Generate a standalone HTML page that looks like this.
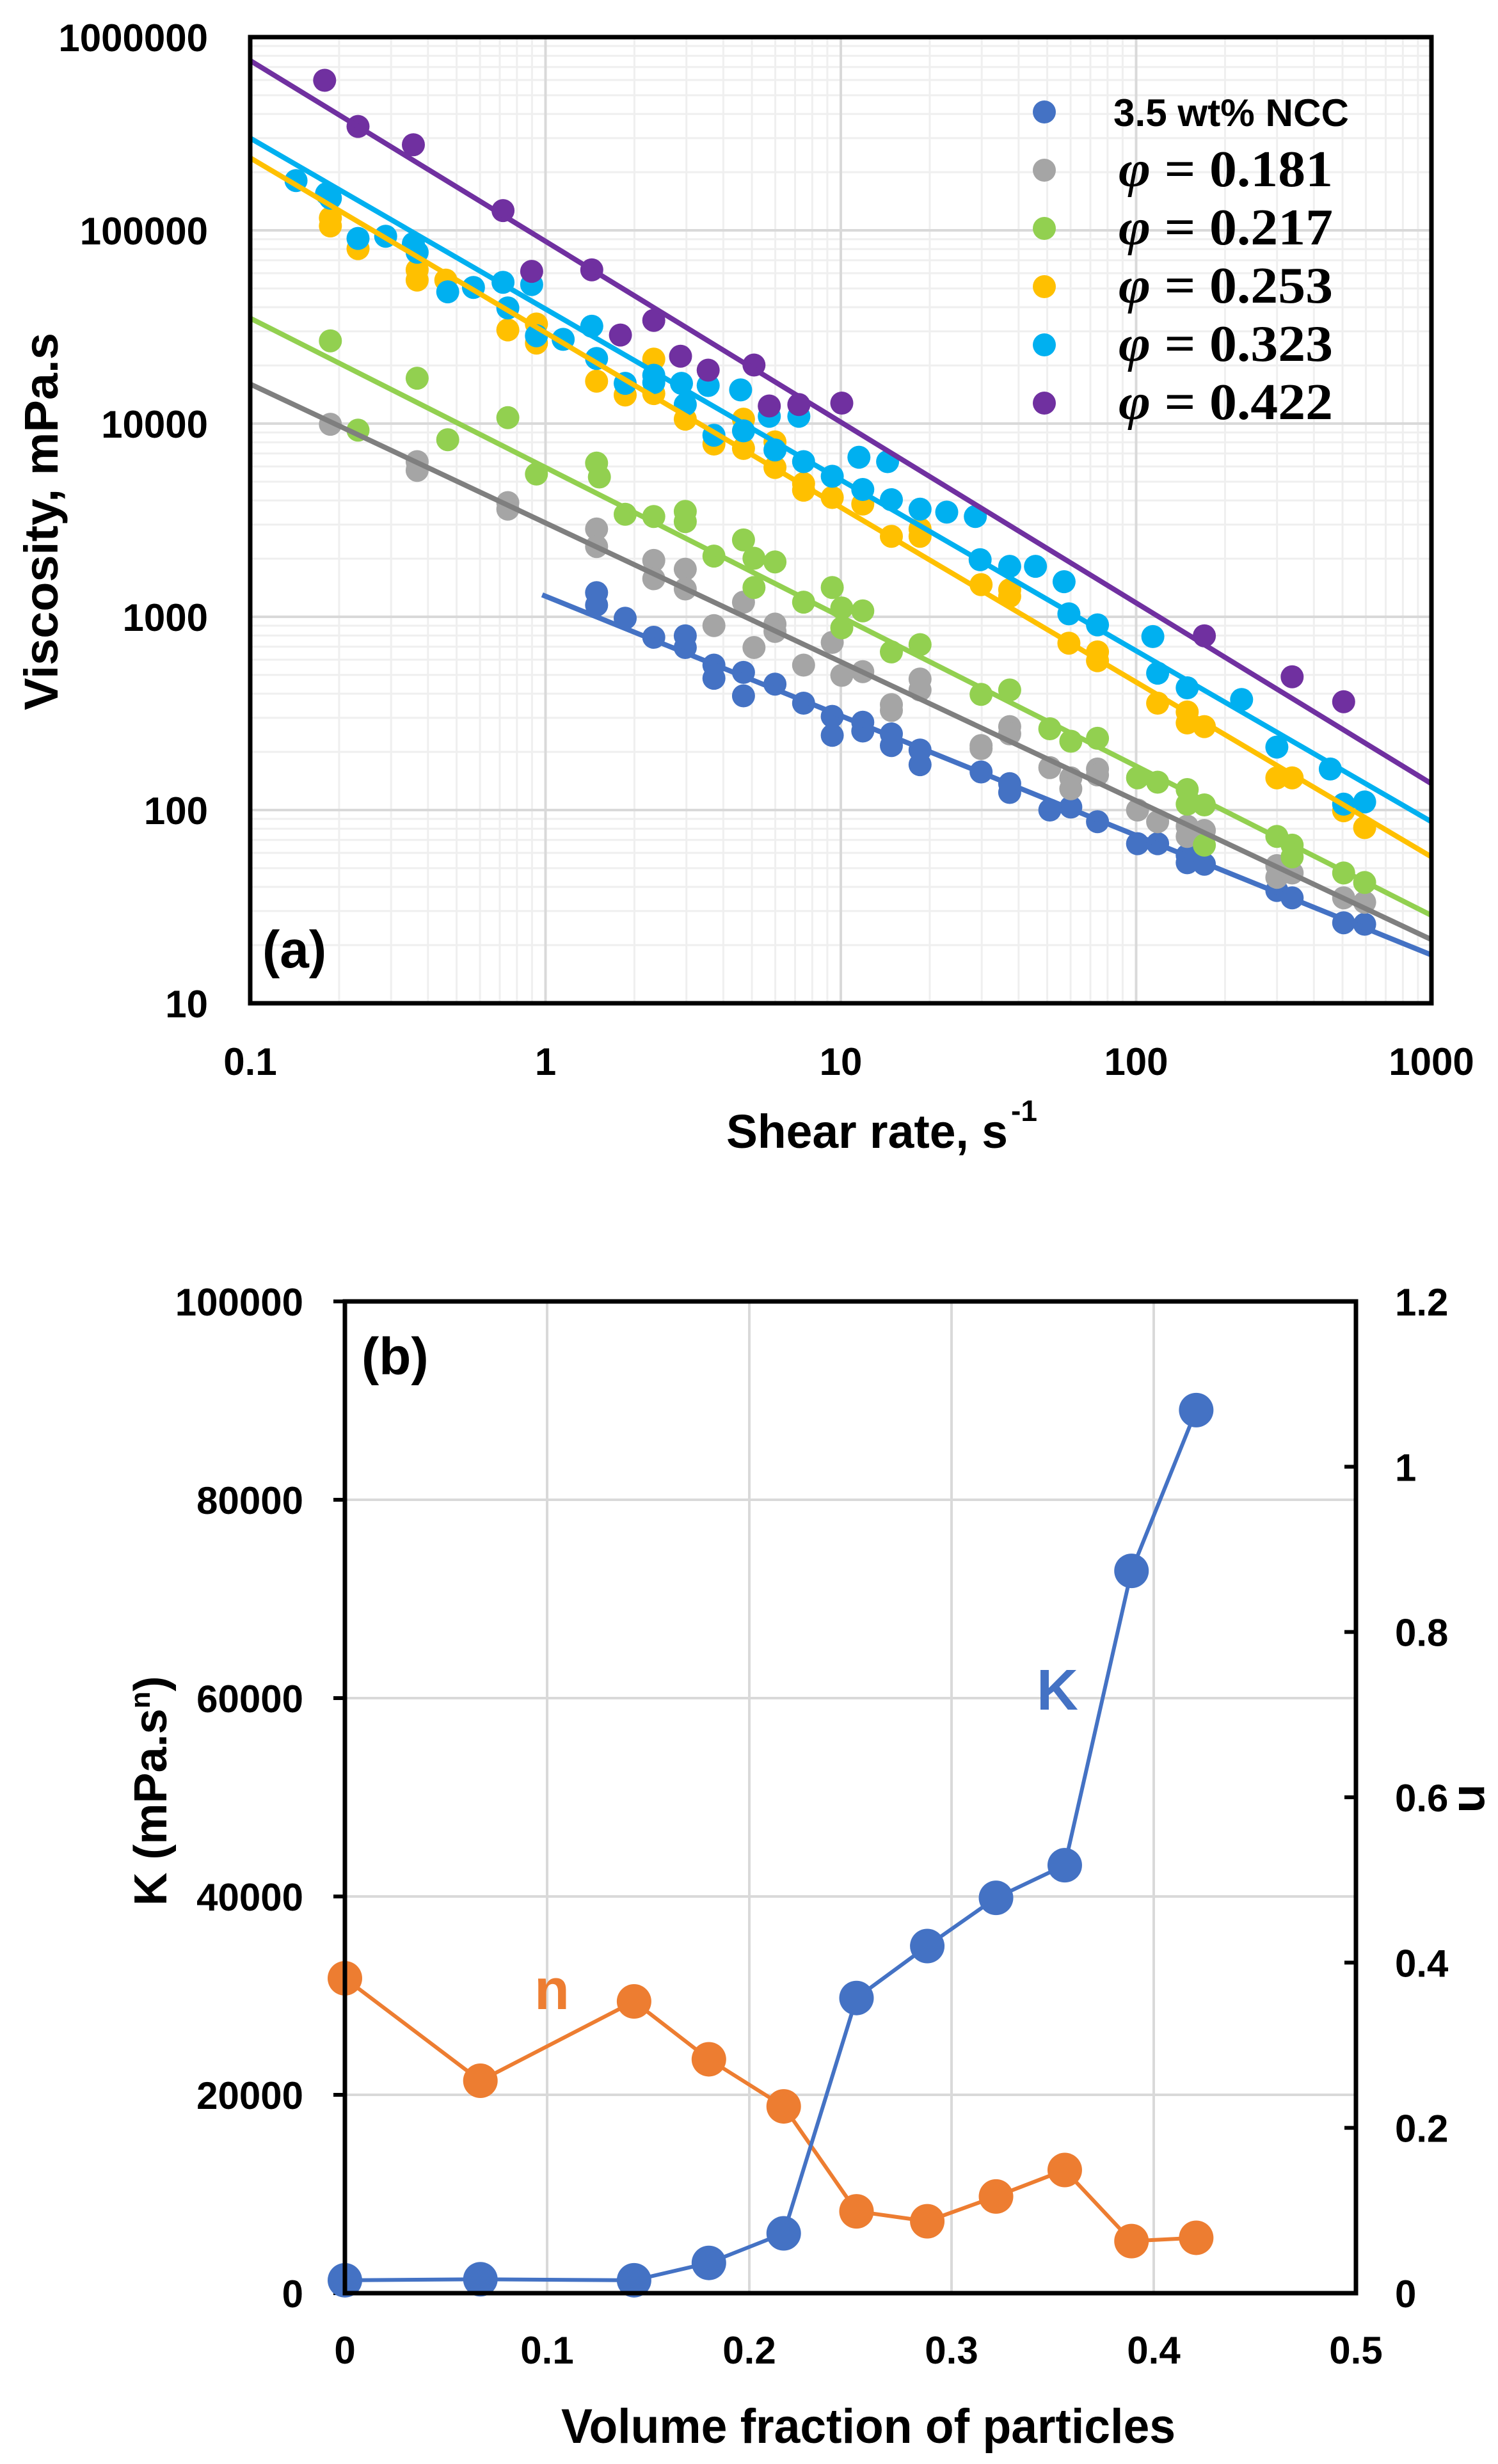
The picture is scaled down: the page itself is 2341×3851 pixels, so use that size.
<!DOCTYPE html>
<html><head><meta charset="utf-8"><style>
html,body{margin:0;padding:0;background:#fff;}
svg{display:block;}
text{font-family:"Liberation Sans",sans-serif;font-weight:bold;fill:#000;}
</style></head><body>
<svg id="s" xmlns="http://www.w3.org/2000/svg" width="2341" height="3851" viewBox="0 0 2341 3851"></svg>
<script>
const s=document.getElementById('s');let h='';
const L=391,R=2237,T=58,B=1568;
const xl=v=>L+(Math.log10(v)+1)*(R-L)/4;
const yl=v=>B-(Math.log10(v)-1)*(B-T)/5;
for(let d=-1;d<3;d++)for(let k=2;k<10;k++){const x=xl(k*Math.pow(10,d));h+=`<line x1="${x}" y1="${T}" x2="${x}" y2="${B}" stroke="#EFEFEF" stroke-width="3"/>`;}
for(let d=1;d<6;d++)for(let k=2;k<10;k++){const y=yl(k*Math.pow(10,d));h+=`<line x1="${L}" y1="${y}" x2="${R}" y2="${y}" stroke="#EFEFEF" stroke-width="3"/>`;}
for(let d=-1;d<=3;d++){const x=xl(Math.pow(10,d));h+=`<line x1="${x}" y1="${T}" x2="${x}" y2="${B}" stroke="#D9D9D9" stroke-width="4"/>`;}
for(let d=1;d<=6;d++){const y=yl(Math.pow(10,d));h+=`<line x1="${L}" y1="${y}" x2="${R}" y2="${y}" stroke="#D9D9D9" stroke-width="4"/>`;}
const X=xd=>L+(xd-262)*1846/1238, Y=yd=>T+(yd-48)*1510/1320;
const ser=[
['#7030A0','#7030A0',[262,80,1500,1068],[[340,107],[375,170],[433,195],[527,285],[557,368],[620,366],[650,455],[685,435],[713,484],[742,503],[790,496],[806,552],[837,550],[882,548],[1262,866],[1354,922],[1408,956]]],
['#00B0F0','#00B0F0',[262,186,1500,1120],[[310,244],[342,262],[346,268],[375,323],[404,320],[433,330],[437,342],[469,396],[496,390],[527,383],[532,418],[557,386],[562,456],[590,461],[620,443],[625,487],[655,521],[685,510],[685,520],[714,521],[718,550],[742,524],[748,592],[776,530],[779,586],[806,566],[812,612],[837,566],[842,628],[872,648],[900,622],[904,666],[930,628],[934,680],[964,693],[992,697],[1022,703],[1027,762],[1058,771],[1085,771],[1115,792],[1120,836],[1150,851],[1208,867],[1213,917],[1244,937],[1301,953],[1338,1018],[1394,1048],[1408,1096],[1430,1093]]],
['#FFC000','#FFC000',[262,213,1500,1168],[[346,295],[346,306],[375,337],[437,366],[437,380],[467,380],[532,448],[562,440],[562,466],[625,518],[655,537],[685,488],[685,535],[718,570],[748,604],[779,570],[779,610],[812,601],[812,636],[842,658],[842,667],[872,677],[904,686],[934,730],[964,720],[964,730],[1028,796],[1058,803],[1058,812],[1120,876],[1150,888],[1150,900],[1213,958],[1244,970],[1244,985],[1262,990],[1338,1060],[1354,1060],[1408,1105],[1430,1128]]],
['#92D050','#92D050',[262,432,1500,1248],[[346,463],[375,585],[437,514],[469,598],[532,568],[562,645],[625,630],[628,649],[655,700],[685,703],[718,696],[718,710],[748,757],[779,735],[790,800],[790,760],[812,765],[842,820],[872,800],[882,828],[882,855],[904,832],[934,888],[964,878],[1028,946],[1058,940],[1100,993],[1122,1010],[1150,1006],[1192,1060],[1213,1066],[1244,1076],[1244,1096],[1262,1097],[1262,1152],[1338,1140],[1354,1152],[1354,1168],[1408,1190],[1430,1203]]],
['#A5A5A5','#7F7F7F',[262,522,1500,1281],[[346,577],[437,628],[437,640],[532,684],[532,693],[625,720],[625,744],[685,763],[685,788],[718,775],[718,802],[748,852],[779,820],[790,882],[812,850],[812,860],[842,906],[872,875],[882,920],[904,915],[934,960],[934,968],[964,925],[964,940],[1028,1016],[1028,1020],[1058,990],[1058,1000],[1100,1046],[1122,1060],[1122,1075],[1150,1048],[1150,1056],[1192,1104],[1213,1120],[1244,1126],[1244,1140],[1262,1132],[1338,1180],[1338,1196],[1354,1190],[1408,1224],[1430,1230]]],
['#4472C4','#4472C4',[568,810,1500,1302],[[625,807],[625,824],[655,842],[685,868],[718,866],[718,882],[748,906],[748,924],[779,916],[779,948],[812,932],[842,958],[872,976],[872,1002],[904,984],[904,996],[934,1000],[934,1016],[964,1022],[964,1042],[1028,1052],[1058,1068],[1058,1080],[1100,1104],[1122,1100],[1150,1120],[1192,1150],[1213,1150],[1244,1166],[1244,1176],[1262,1178],[1338,1214],[1354,1224],[1408,1258],[1430,1260]]]
];
for(let i=ser.length-1;i>=0;i--){const [c,lc,ln,pts]=ser[i];
 for(const p of pts)h+=`<circle cx="${X(p[0]).toFixed(1)}" cy="${Y(p[1]).toFixed(1)}" r="18" fill="${c}"/>`;}
for(let i=ser.length-1;i>=0;i--){const [c,lc,ln]=ser[i];
 h+=`<line x1="${X(ln[0])}" y1="${Y(ln[1])}" x2="${X(ln[2])}" y2="${Y(ln[3])}" stroke="${lc}" stroke-width="8"/>`;}
h+=`<rect x="${L}" y="${T}" width="${R-L}" height="${B-T}" fill="none" stroke="#000" stroke-width="7"/>`;
['1000000','100000','10000','1000','100','10'].forEach((t,i)=>{h+=`<text x="325" y="${T+i*(B-T)/5+22}" font-size="60" text-anchor="end">${t}</text>`;});
['0.1','1','10','100','1000'].forEach((t,i)=>{h+=`<text x="${L+i*(R-L)/4}" y="1680" font-size="60" text-anchor="middle">${t}</text>`;});
h+=`<text x="1135" y="1794" font-size="74" textLength="440" lengthAdjust="spacingAndGlyphs">Shear rate, s</text><text x="1580" y="1752" font-size="46">-1</text>`;
h+=`<text transform="translate(90,815) rotate(-90)" font-size="74" text-anchor="middle" textLength="590" lengthAdjust="spacingAndGlyphs">Viscosity, mPa.s</text>`;
h+=`<text x="410" y="1512" font-size="82">(a)</text>`;
const lg=[['#4472C4'],['#A5A5A5','0.181'],['#92D050','0.217'],['#FFC000','0.253'],['#00B0F0','0.323'],['#7030A0','0.422']];
lg.forEach((g,i)=>{const y=175+i*91;h+=`<circle cx="1632" cy="${y}" r="18" fill="${g[0]}"/>`;
 if(i==0)h+=`<text x="1740" y="${y+22}" font-size="60" textLength="368" lengthAdjust="spacingAndGlyphs">3.5 wt% NCC</text>`;
 else h+=`<text x="1748" y="${y+25}" font-size="80" style="font-family:'Liberation Serif',serif" textLength="335" lengthAdjust="spacingAndGlyphs"><tspan font-style="italic">φ</tspan> = 0.${g[1].slice(2)}</text>`;});
const L2=539,R2=2119,T2=2034,B2=3584;
const xb=v=>L2+v*(R2-L2)/0.5, yk=v=>B2-v*(B2-T2)/100000, yn=v=>B2-v*(B2-T2)/1.2;
for(let i=1;i<5;i++){const x=xb(i*0.1);h+=`<line x1="${x}" y1="${T2}" x2="${x}" y2="${B2}" stroke="#D9D9D9" stroke-width="4"/>`;}
for(let i=1;i<5;i++){const y=yk(i*20000);h+=`<line x1="${L2}" y1="${y}" x2="${R2}" y2="${y}" stroke="#D9D9D9" stroke-width="4"/>`;}
for(let i=0;i<=5;i++){const y=yk(i*20000);h+=`<line x1="${L2-18}" y1="${y}" x2="${L2}" y2="${y}" stroke="#000" stroke-width="6"/>`;
 h+=`<text x="474" y="${y+22}" font-size="60" text-anchor="end">${i*20000}</text>`;}
['0','0.2','0.4','0.6','0.8','1','1.2'].forEach((t,i)=>{const y=yn(i*0.2);h+=`<line x1="${R2-18}" y1="${y}" x2="${R2}" y2="${y}" stroke="#000" stroke-width="6"/><text x="2180" y="${y+22}" font-size="60">${t}</text>`;});
['0','0.1','0.2','0.3','0.4','0.5'].forEach((t,i)=>{h+=`<text x="${xb(i*0.1)}" y="3694" font-size="60" text-anchor="middle">${t}</text>`;});
const px=[0,0.067,0.143,0.18,0.217,0.253,0.288,0.322,0.356,0.389,0.421];
const K=[1300,1400,1300,3050,6030,29760,35000,39860,43150,72830,89040];
const N=[0.381,0.257,0.353,0.283,0.226,0.099,0.087,0.117,0.149,0.063,0.067];
h+=`<polyline points="${px.map((x,i)=>xb(x)+','+yn(N[i])).join(' ')}" fill="none" stroke="#ED7D31" stroke-width="6"/>`;
px.forEach((x,i)=>h+=`<circle cx="${xb(x)}" cy="${yn(N[i])}" r="27" fill="#ED7D31"/>`);
h+=`<polyline points="${px.map((x,i)=>xb(x)+','+yk(K[i])).join(' ')}" fill="none" stroke="#4472C4" stroke-width="6"/>`;
px.forEach((x,i)=>h+=`<circle cx="${xb(x)}" cy="${yk(K[i])}" r="27" fill="#4472C4"/>`);
h+=`<rect x="${L2}" y="${T2}" width="${R2-L2}" height="${B2-T2}" fill="none" stroke="#000" stroke-width="7"/>`;
h+=`<text x="1357" y="3818" font-size="76" text-anchor="middle" textLength="960" lengthAdjust="spacingAndGlyphs">Volume fraction of particles</text>`;
h+=`<text transform="translate(260,2799) rotate(-90)" font-size="72" text-anchor="middle">K (mPa.s<tspan font-size="44" dy="-26">n</tspan><tspan dy="26">)</tspan></text>`;
h+=`<text transform="translate(2280,2811) rotate(90)" font-size="74" text-anchor="middle">n</text>`;
h+=`<text x="565" y="2148" font-size="82">(b)</text>`;
h+=`<text x="1620" y="2672" font-size="90" style="fill:#4472C4">K</text>`;
h+=`<text x="835" y="3140" font-size="90" style="fill:#ED7D31">n</text>`;
s.innerHTML=h;
</script>
</body></html>
